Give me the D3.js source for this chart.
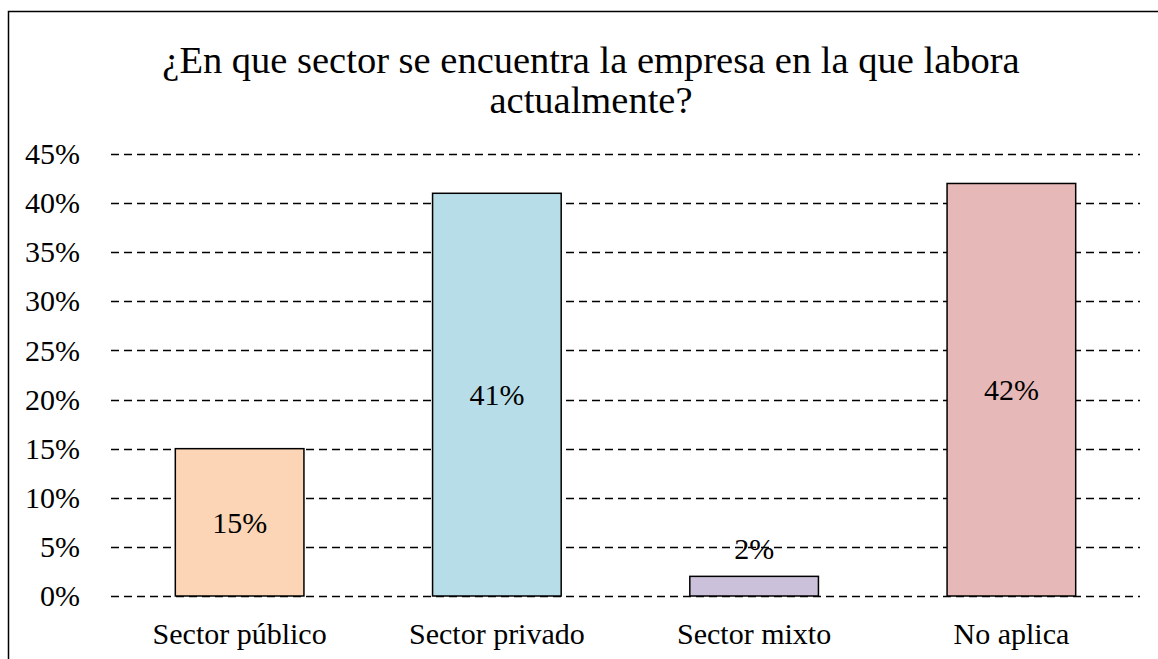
<!DOCTYPE html>
<html>
<head>
<meta charset="utf-8">
<script src="https://cdn.jsdelivr.net/npm/d3@7"></script>
<style>
  body { margin: 0; background: #fff; }
  svg { display: block; }
  .serif, .serif text { font-family: 'Liberation Serif'; fill: #000; }
</style>
</head>
<body>
<svg width="1158" height="659"></svg>
<script>
// chart data
const titleLines = ["¿En que sector se encuentra la empresa en la que labora", "actualmente?"];
const categories = ["Sector público", "Sector privado", "Sector mixto", "No aplica"];
const values = [0.15, 0.41, 0.02, 0.42];
const yTicks = [0, 0.05, 0.10, 0.15, 0.20, 0.25, 0.30, 0.35, 0.40, 0.45];
const colors = ["#FBD5B5", "#B7DDE8", "#CCC1DA", "#E6B9B8"];

const svg = d3.select("svg");
const margin = {top: 154, right: 18, bottom: 63, left: 111};
const width = +svg.attr("width") - margin.left - margin.right;
const height = +svg.attr("height") - margin.top - margin.bottom;

// outer border (only top and left are visible in the frame)
svg.append("rect")
    .attr("x", 8.5).attr("y", 11.5)
    .attr("width", 1200).attr("height", 700)
    .attr("fill", "none")
    .attr("stroke", "#000")
    .attr("stroke-width", 1.5);

titleLines.forEach(function(line, i) {
  svg.append("text")
      .attr("class", "serif")
      .attr("text-anchor", "middle")
      .attr("x", 591)
      .attr("y", 73 + i * 40)
      .attr("font-size", 38.5)
      .text(line);
});

const g = svg.append("g").attr("transform", "translate(" + margin.left + "," + margin.top + ")");

const x = d3.scaleBand()
    .domain(categories)
    .range([0, width])
    .paddingInner(0.5)
    .paddingOuter(0.25);

const y = d3.scaleLinear()
    .domain([0, 0.45])
    .range([height, 0]);

// gridlines
g.append("g")
    .selectAll("line")
    .data(yTicks)
  .enter().append("line")
    .attr("x1", 0).attr("x2", width)
    .attr("y1", d => Math.round(y(d)) + 0.5)
    .attr("y2", d => Math.round(y(d)) + 0.5)
    .attr("stroke", "#000")
    .attr("stroke-width", 1.3)
    .attr("stroke-dasharray", "8,5");

// y axis
const yAxis = g.append("g")
    .call(d3.axisLeft(y).tickValues(yTicks).tickFormat(d3.format(".0%")).tickSize(0).tickPadding(31));
yAxis.select(".domain").remove();
yAxis.selectAll("text")
    .attr("class", "serif")
    .attr("font-size", 30);

// x axis
const xAxis = g.append("g")
    .attr("transform", "translate(0," + height + ")")
    .call(d3.axisBottom(x).tickSize(0).tickPadding(27));
xAxis.select(".domain").remove();
xAxis.selectAll("text")
    .attr("class", "serif")
    .attr("font-size", 30);

// bars
g.selectAll(".bar")
    .data(values)
  .enter().append("rect")
    .attr("class", "bar")
    .attr("x", (d, i) => x(categories[i]))
    .attr("y", d => y(d))
    .attr("width", x.bandwidth())
    .attr("height", d => height - y(d))
    .attr("fill", (d, i) => colors[i])
    .attr("stroke", "#000")
    .attr("stroke-width", 1.5);

// labels: centered in bar, above it when the bar is too short
g.selectAll(".label")
    .data(values)
  .enter().append("text")
    .attr("class", "serif")
    .attr("x", (d, i) => x(categories[i]) + x.bandwidth() / 2)
    .attr("y", d => (height - y(d) > 40 ? (y(d) + height) / 2 : y(d) - 28))
    .attr("dy", "0.35em")
    .attr("text-anchor", "middle")
    .attr("font-size", 30)
    .text(d => d3.format(".0%")(d));
</script>
</body>
</html>
